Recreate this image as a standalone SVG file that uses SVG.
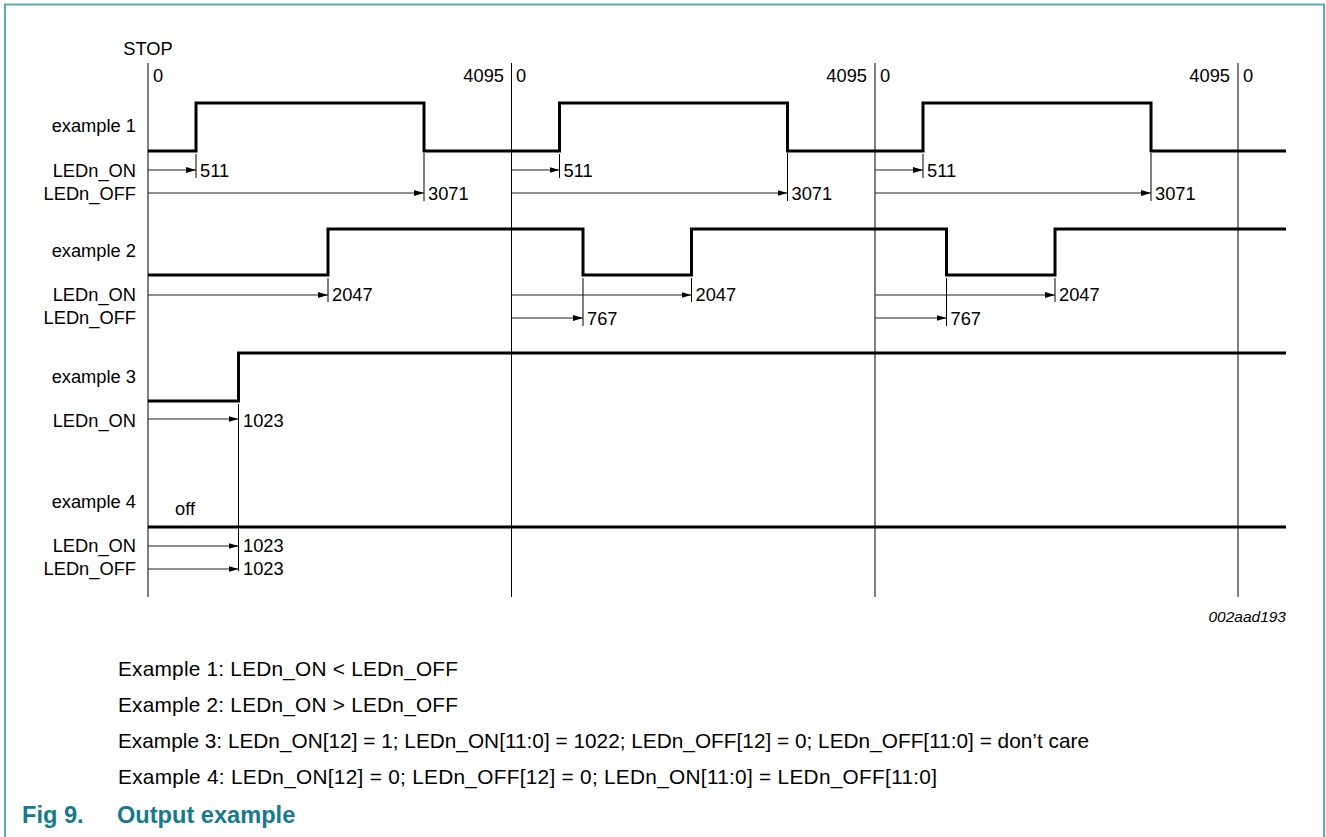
<svg xmlns="http://www.w3.org/2000/svg" width="1326" height="837" viewBox="0 0 1326 837">
<defs>
<style>
text{font-family:"Liberation Sans",Arial,Helvetica,sans-serif;fill:#000}
.lbl{font-size:18.3px;text-anchor:end}
.num{font-size:18.3px}
.cap{font-size:20.8px}
.wave{fill:none;stroke:#000;stroke-width:3;stroke-linejoin:miter}
.thin{fill:none;stroke:#000;stroke-width:1}
.arr{fill:none;stroke:#222;stroke-width:1;marker-end:url(#ah)}
</style>
<marker id="ah" viewBox="0 0 10 6" refX="10" refY="3" markerWidth="10" markerHeight="6" markerUnits="userSpaceOnUse" orient="auto">
<path d="M0,0 L10,3 L0,6 z" fill="#000"/>
</marker>
</defs>
<rect width="1326" height="837" fill="#fff"/>
<path d="M5,837 V4.5 H1324 V837" fill="none" stroke="#5aa9bb" stroke-width="2"/>

<g id="axis">
<text class="num" x="148" y="55" text-anchor="middle">STOP</text>
<path class="thin" d="M148,63 V597 M511.5,63 V597 M875,63 V597 M1238,63 V597"/>
<text class="num" x="153" y="82">0</text>
<text class="num" x="504" y="82" text-anchor="end">4095</text>
<text class="num" x="516" y="82">0</text>
<text class="num" x="867" y="82" text-anchor="end">4095</text>
<text class="num" x="880" y="82">0</text>
<text class="num" x="1230" y="82" text-anchor="end">4095</text>
<text class="num" x="1243" y="82">0</text>
</g>

<g id="example1">
<text class="lbl" x="136" y="132">example 1</text>
<text class="lbl" x="136" y="177">LEDn_ON</text>
<text class="lbl" x="136" y="200">LEDn_OFF</text>
<path class="wave" d="M148,151 H196 V103 H424 V151 H559.5 V103 H787.5 V151 H923 V103 H1151 V151 H1286"/>
<path class="thin" d="M196,154 V178 M424,153 V201 M559.5,154 V178 M787.5,153 V201 M923,154 V178 M1151,153 V201"/>
</g>

<g id="example2">
<text class="lbl" x="136" y="257">example 2</text>
<text class="lbl" x="136" y="301">LEDn_ON</text>
<text class="lbl" x="136" y="324">LEDn_OFF</text>
<path class="wave" d="M148,275 H328 V229 H583 V275 H691.5 V229 H946.5 V275 H1055 V229 H1286"/>
<path class="thin" d="M328,278 V302 M583,278 V326 M691.5,278 V302 M946.5,278 V326 M1055,278 V302"/>
</g>

<g id="example3">
<text class="lbl" x="136" y="383">example 3</text>
<text class="lbl" x="136" y="427">LEDn_ON</text>
<path class="wave" d="M148,401 H238.5 V353 H1286"/>
<path class="thin" d="M238.5,404 V571"/>
</g>

<g id="example4">
<text class="lbl" x="136" y="508">example 4</text>
<text class="num" x="175" y="515">off</text>
<text class="lbl" x="136" y="552">LEDn_ON</text>
<text class="lbl" x="136" y="575">LEDn_OFF</text>
<path class="wave" d="M148,527 H1286"/>
</g>

<g id="connectors">
<path class="arr" d="M148,170 H196"/>
<path class="arr" d="M511.5,170 H559.5"/>
<path class="arr" d="M875,170 H923"/>
<path class="arr" d="M148,193 H424"/>
<path class="arr" d="M511.5,193 H787.5"/>
<path class="arr" d="M875,193 H1151"/>
<path class="arr" d="M148,295 H328"/>
<path class="arr" d="M511.5,295 H691.5"/>
<path class="arr" d="M875,295 H1055"/>
<path class="arr" d="M511.5,318 H583"/>
<path class="arr" d="M875,318 H946.5"/>
<path class="arr" d="M148,419 H238.5"/>
<path class="arr" d="M148,546 H238.5"/>
<path class="arr" d="M148,569 H238.5"/>
</g>

<g id="values">
<text class="num" x="200" y="177">511</text>
<text class="num" x="563.5" y="177">511</text>
<text class="num" x="927" y="177">511</text>
<text class="num" x="428" y="200">3071</text>
<text class="num" x="791.5" y="200">3071</text>
<text class="num" x="1155" y="200">3071</text>
<text class="num" x="332" y="301">2047</text>
<text class="num" x="695.5" y="301">2047</text>
<text class="num" x="1059" y="301">2047</text>
<text class="num" x="587" y="325">767</text>
<text class="num" x="950.5" y="325">767</text>
<text class="num" x="243" y="427">1023</text>
<text class="num" x="243" y="552">1023</text>
<text class="num" x="243" y="575">1023</text>
</g>

<text x="1286" y="622" font-size="15.5" font-style="italic" text-anchor="end">002aad193</text>

<g id="caption">
<text class="cap" x="118" y="676" textLength="340" lengthAdjust="spacing">Example 1: LEDn_ON &lt; LEDn_OFF</text>
<text class="cap" x="118" y="712" textLength="340" lengthAdjust="spacing">Example 2: LEDn_ON &gt; LEDn_OFF</text>
<text class="cap" x="118" y="748" textLength="971" lengthAdjust="spacing">Example 3: LEDn_ON[12] = 1; LEDn_ON[11:0] = 1022; LEDn_OFF[12] = 0; LEDn_OFF[11:0] = don’t care</text>
<text class="cap" x="118" y="784" textLength="819" lengthAdjust="spacing">Example 4: LEDn_ON[12] = 0; LEDn_OFF[12] = 0; LEDn_ON[11:0] = LEDn_OFF[11:0]</text>
<text x="22" y="823" font-size="23.6" font-weight="bold" style="fill:#167a8c">Fig 9.</text>
<text x="117" y="823" font-size="23.6" font-weight="bold" style="fill:#167a8c">Output example</text>
</g>
</svg>
